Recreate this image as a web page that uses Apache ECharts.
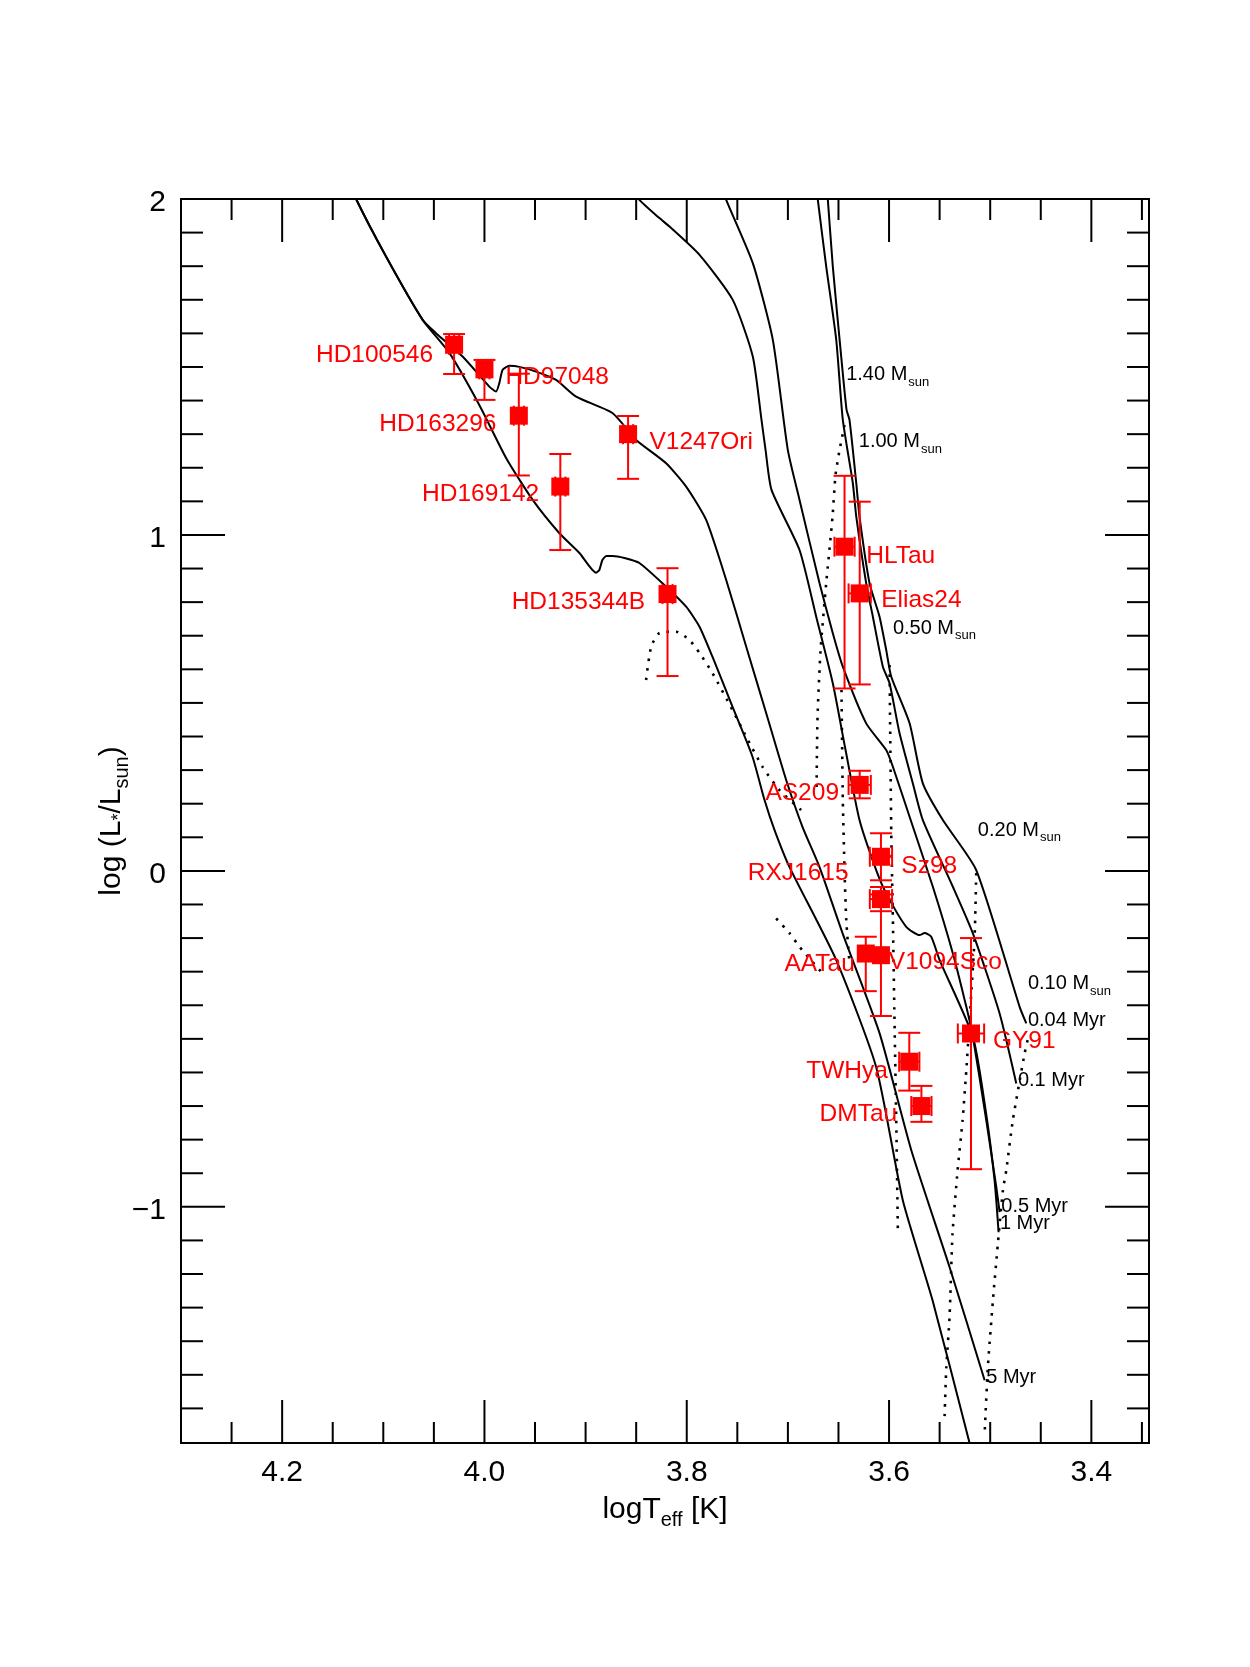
<!DOCTYPE html>
<html>
<head>
<meta charset="utf-8">
<title>HR diagram</title>
<script src="https://cdn.jsdelivr.net/npm/echarts@6/dist/echarts.min.js"></script>
<style>
  html, body { margin: 0; padding: 0; background: #fff; }
  #main { width: 1250px; height: 1667px; }
</style>
</head>
<body>
<div id="main"></div>
<script>
// axis limits (logTeff runs backwards)
var tMin = 3.343, tMax = 4.3
var lMin = -1.703, lMax = 2

// ticks
var xMajorTicks = [4.2, 4.0, 3.8, 3.6, 3.4]
var xTickLabels = ['4.2', '4.0', '3.8', '3.6', '3.4']
var xMinorTicks = [4.25, 4.15, 4.1, 4.05, 3.95, 3.9, 3.85, 3.75, 3.7, 3.65, 3.55, 3.5, 3.45, 3.35]
var yMajorTicks = [-1, 0, 1, 2]
var yTickLabels = ['\u22121', '0', '1', '2']
var yMinorTicks = [-1.6, -1.5, -1.4, -1.3, -1.2, -1.1, -0.9, -0.8, -0.7, -0.6, -0.5, -0.4, -0.3, -0.2, -0.1,
  0.1, 0.2, 0.3, 0.4, 0.5, 0.6, 0.7, 0.8, 0.9, 1.1, 1.2, 1.3, 1.4, 1.5, 1.6, 1.7, 1.8, 1.9]

// stars
var starNames = ['HD100546', 'HD97048', 'HD163296', 'HD169142', 'V1247Ori', 'HD135344B', 'HLTau', 'Elias24',
  'AS209', 'Sz98', 'RXJ1615', 'AATau', 'V1094Sco', 'GY91', 'TWHya', 'DMTau']
var starTeff = [4.030, 4.000, 3.966, 3.925, 3.858, 3.819, 3.644, 3.629, 3.629, 3.608, 3.608, 3.623, 3.608, 3.519, 3.580, 3.568]
var starLum = [1.566, 1.493, 1.355, 1.144, 1.300, 0.824, 0.965, 0.826, 0.256, 0.042, -0.084, -0.246, -0.251, -0.484, -0.568, -0.700]
var lumLo = [1.479, 1.402, 1.177, 0.955, 1.167, 0.580, 0.543, 0.555, 0.216, -0.028, -0.120, -0.358, -0.432, -0.888, -0.654, -0.747]
var lumHi = [1.598, 1.521, 1.480, 1.241, 1.354, 0.901, 1.176, 1.099, 0.298, 0.112, -0.048, -0.196, -0.070, -0.200, -0.482, -0.640]
var teffErr = [0.005, 0.005, 0.005, 0.005, 0.005, 0.005, 0.010, 0.011, 0.011, 0.011, 0.011, 0, 0, 0.013, 0.010, 0.010]
// where each name is written (left end of text)
var nameAt = [[4.1666, 1.536], [3.9793, 1.4696], [4.104, 1.3306], [4.0617, 1.1221], [3.8369, 1.2755], [3.9731, 0.7984],
  [3.6226, 0.9375], [3.6077, 0.8043], [3.7222, 0.2308], [3.5879, 0.0152], [3.7397, -0.0074], [3.7034, -0.2784],
  [3.6002, -0.2707], [3.4973, -0.5068], [3.6819, -0.5953], [3.6687, -0.7242]]

// isochrones (solid)
var isoOld = [[4.1336, 2.0572], [4.1270, 2.0006], [4.0973, 1.8288], [4.0611, 1.6403], [4.0347, 1.5420], [4.0051, 1.3871],
  [3.9786, 1.2293], [3.9523, 1.1042], [3.9259, 1.0051], [3.9061, 0.9464], [3.8896, 0.8877], [3.8864, 0.8958],
  [3.8834, 0.9256], [3.8794, 0.9375], [3.8735, 0.9375], [3.8616, 0.9315], [3.8468, 0.9166], [3.8204, 0.8460],
  [3.8006, 0.7865], [3.7874, 0.7269], [3.7746, 0.6376], [3.7548, 0.4887], [3.7350, 0.3398], [3.7231, 0.2108],
  [3.7132, 0.1215], [3.6984, 0.0113], [3.6522, -0.2656], [3.6127, -0.5843], [3.5864, -0.9803], [3.5570, -1.2781],
  [3.5204, -1.7031], [3.5154, -1.7546]]
var iso5Myr = [[4.1336, 2.0572], [4.1270, 2.0006], [4.0973, 1.8288], [4.0611, 1.6403], [4.0479, 1.6007], [4.0216, 1.5310],
  [3.9952, 1.4416], [3.9885, 1.4267], [3.9853, 1.4518], [3.9820, 1.4914], [3.9754, 1.5033], [3.9655, 1.5003],
  [3.9490, 1.4863], [3.9292, 1.4616], [3.9094, 1.4118], [3.8732, 1.3624], [3.8500, 1.2829], [3.8204, 1.2135],
  [3.8006, 1.1438], [3.7808, 1.0447], [3.7610, 0.8660], [3.7412, 0.6674], [3.7215, 0.4699], [3.7017, 0.2704],
  [3.6856, 0.1313], [3.6687, 0.0113], [3.6460, -0.1852], [3.6094, -0.4830], [3.5780, -0.8314], [3.5402, -1.1790],
  [3.5055, -1.5164]]
var iso1Myr = [[3.8567, 2.0423], [3.8468, 1.9976], [3.8270, 1.9431], [3.8171, 1.9181], [3.7874, 1.8338], [3.7545, 1.6998],
  [3.7347, 1.5310], [3.7261, 1.3425], [3.7221, 1.2531], [3.7162, 1.1340], [3.6885, 0.9553], [3.6720, 0.7567],
  [3.6556, 0.5584], [3.6430, 0.3597], [3.6292, 0.1513], [3.6127, 0.0024], [3.6028, -0.0670], [3.5830, -0.1665],
  [3.5698, -0.1912], [3.5649, -0.1852], [3.5583, -0.1962], [3.5500, -0.2656], [3.5171, -0.4940], [3.5045, -0.7123],
  [3.4957, -0.9208], [3.4917, -1.0756]]
var iso05Myr = [[3.7657, 2.0423], [3.7610, 1.9976], [3.7347, 1.8091], [3.7149, 1.5807], [3.7001, 1.2531], [3.6885, 1.1042],
  [3.6687, 0.8562], [3.6556, 0.7073], [3.6457, 0.6078], [3.6226, 0.4392], [3.6028, 0.3597], [3.5962, 0.3100],
  [3.5797, 0.1611], [3.5567, -0.0473], [3.5369, -0.2457], [3.5236, -0.4047], [3.5171, -0.4940], [3.5039, -0.7421],
  [3.4940, -0.9407], [3.4907, -1.0161]]
var iso01Myr = [[3.6717, 2.0423], [3.6704, 1.9976], [3.6621, 1.7990], [3.6522, 1.5807], [3.6457, 1.3425], [3.6358, 1.1539],
  [3.6324, 1.0545], [3.6226, 0.8562], [3.6160, 0.7567], [3.6061, 0.6078], [3.5995, 0.5584], [3.5896, 0.4095],
  [3.5765, 0.2606], [3.5666, 0.1513], [3.5369, -0.0473], [3.5171, -0.1861], [3.4907, -0.4244], [3.4742, -0.6328]]
var iso004Myr = [[3.6618, 2.0423], [3.6605, 1.9976], [3.6556, 1.7990], [3.6473, 1.5310], [3.6420, 1.3723], [3.6391, 1.3425],
  [3.6324, 1.1539], [3.6292, 1.0545], [3.6193, 0.8562], [3.6094, 0.7567], [3.6028, 0.6575], [3.5978, 0.5780],
  [3.5797, 0.4392], [3.5666, 0.2606], [3.5468, 0.1513], [3.5138, 0.0024], [3.4709, -0.4047], [3.4643, -0.4541]]

// mass tracks (dotted)
var trkHigh = [[3.8402, 0.5682], [3.8352, 0.6674], [3.8270, 0.7081], [3.8105, 0.7120], [3.7973, 0.6873], [3.7874, 0.6486],
  [3.7746, 0.5890], [3.7548, 0.4789], [3.7412, 0.3993], [3.7251, 0.3100], [3.7083, 0.2406], [3.6869, 0.1811]]
var trkLow = [[3.7116, -0.1415], [3.6984, -0.1852], [3.6885, -0.2260], [3.6668, -0.3014]]
var trk100 = [[3.6440, 1.3276], [3.6489, 1.2531], [3.6529, 1.1787], [3.6559, 1.0536], [3.6621, 0.8571], [3.6677, 0.6575],
  [3.6707, 0.4580], [3.6717, 0.2406]]
var trkMid = [[3.6470, 0.5384], [3.6457, 0.2108], [3.6440, 0.0024], [3.6423, -0.1465], [3.6391, -0.2746]]
var trk050 = [[3.5995, 0.6129], [3.5978, 0.1126], [3.5962, -0.1465], [3.5946, -0.4443], [3.5929, -0.7421], [3.5913, -1.0697]]
var trk020 = [[3.5138, -0.0066], [3.5154, -0.1971], [3.5204, -0.4443], [3.5236, -0.5932], [3.5273, -0.7421], [3.5322, -0.8910],
  [3.5372, -1.0786], [3.5402, -1.3288], [3.5434, -1.4777], [3.5451, -1.6266]]
var trk010 = [[3.4630, -0.5039], [3.4660, -0.5435], [3.4776, -0.7421], [3.4841, -0.8910], [3.4874, -0.9506], [3.4924, -1.1093],
  [3.4973, -1.2781], [3.5023, -1.4768], [3.5055, -1.6751]]

// black annotations
var massTags = ['1.40', '1.00', '0.50', '0.20', '0.10']
var massTagAt = [[3.6424, 1.4762], [3.6299, 1.2778], [3.5962, 0.7222], [3.5122, 0.1215], [3.4627, -0.335]]
var ageTags = ['0.04 Myr', '0.1 Myr', '0.5 Myr', '1 Myr', '5 Myr']
var ageTagAt = [[3.4627, -0.4443], [3.4726, -0.623], [3.489, -1.0003], [3.4904, -1.0489], [3.5039, -1.5065]]

var FONT = '"Liberation Sans", Arial, Helvetica, sans-serif'
var RED = '#ff0000'

function solid(name, data) {
  return { name: name, type: 'line', data: data, showSymbol: false, smooth: 0.2, z: 2,
    lineStyle: { color: '#000', width: 2 } }
}
function dotted(name, data) {
  return { name: name, type: 'line', data: data, showSymbol: false, smooth: 0.2, z: 2,
    lineStyle: { color: '#000', width: 2.6, type: [2.5, 7] } }
}

function xTicks(major) {
  return function(params, api) {
    var cs = params.coordSys
    var px = api.coord([api.value(0), 0])[0]
    var len = major ? 43 : 21
    var bottom = cs.y + cs.height
    var st = { stroke: '#000', lineWidth: 2 }
    var kids = [
      { type: 'line', shape: { x1: px, y1: bottom, x2: px, y2: bottom - len }, style: st },
      { type: 'line', shape: { x1: px, y1: cs.y, x2: px, y2: cs.y + len }, style: st }
    ]
    if (major) {
      kids.push({ type: 'text', x: px, y: bottom + 15,
        style: { text: xTickLabels[params.dataIndex], fill: '#000', fontSize: 30, fontFamily: FONT,
          align: 'center', verticalAlign: 'top' } })
    }
    return { type: 'group', children: kids }
  }
}
function yTicks(major) {
  return function(params, api) {
    var cs = params.coordSys
    var py = api.coord([tMax, api.value(1)])[1]
    var len = major ? 44 : 22
    var right = cs.x + cs.width
    var st = { stroke: '#000', lineWidth: 2 }
    var kids = [
      { type: 'line', shape: { x1: cs.x, y1: py, x2: cs.x + len, y2: py }, style: st },
      { type: 'line', shape: { x1: right, y1: py, x2: right - len, y2: py }, style: st }
    ]
    if (major) {
      kids.push({ type: 'text', x: cs.x - 15, y: py + 4,
        style: { text: yTickLabels[params.dataIndex], fill: '#000', fontSize: 30, fontFamily: FONT,
          align: 'right', verticalAlign: 'middle' } })
    }
    return { type: 'group', children: kids }
  }
}

function errorBars(params, api) {
  var t = api.value(0), l = api.value(1), lo = api.value(2), hi = api.value(3), te = api.value(4)
  var pHi = api.coord([t, hi]), pLo = api.coord([t, lo])
  var st = { stroke: RED, lineWidth: 2 }
  var cap = 11
  var kids = [
    { type: 'line', shape: { x1: pHi[0], y1: pHi[1], x2: pLo[0], y2: pLo[1] }, style: st },
    { type: 'line', shape: { x1: pHi[0] - cap, y1: pHi[1], x2: pHi[0] + cap, y2: pHi[1] }, style: st },
    { type: 'line', shape: { x1: pLo[0] - cap, y1: pLo[1], x2: pLo[0] + cap, y2: pLo[1] }, style: st }
  ]
  if (te > 0) {
    var pA = api.coord([t + te, l]), pB = api.coord([t - te, l])
    kids.push({ type: 'line', shape: { x1: pA[0], y1: pA[1], x2: pB[0], y2: pB[1] }, style: st })
    kids.push({ type: 'line', shape: { x1: pA[0], y1: pA[1] - 10, x2: pA[0], y2: pA[1] + 10 }, style: st })
    kids.push({ type: 'line', shape: { x1: pB[0], y1: pB[1] - 10, x2: pB[0], y2: pB[1] + 10 }, style: st })
  }
  return { type: 'group', children: kids }
}

function starLabel(params, api) {
  var p = api.coord([api.value(0), api.value(1)])
  return { type: 'text', x: p[0], y: p[1],
    style: { text: starNames[params.dataIndex], fill: RED, fontSize: 24.5, fontFamily: FONT,
      align: 'left', verticalAlign: 'middle' } }
}
function massLabel(params, api) {
  var p = api.coord([api.value(0), api.value(1)])
  return { type: 'text', x: p[0], y: p[1] - 10,
    style: { text: '{m|' + massTags[params.dataIndex] + ' M}{s|sun}', fill: '#000', fontFamily: FONT,
      align: 'left', verticalAlign: 'top',
      rich: {
        m: { fontSize: 20, fontFamily: FONT, fill: '#000', verticalAlign: 'top', lineHeight: 20 },
        s: { fontSize: 13, fontFamily: FONT, fill: '#000', verticalAlign: 'top', lineHeight: 13, padding: [11, 0, 0, 1] }
      } } }
}
function ageLabel(params, api) {
  var p = api.coord([api.value(0), api.value(1)])
  return { type: 'text', x: p[0], y: p[1],
    style: { text: ageTags[params.dataIndex], fill: '#000', fontSize: 20, fontFamily: FONT,
      align: 'left', verticalAlign: 'middle' } }
}

var chart = echarts.init(document.getElementById('main'))
var option = {
  animation: false,
  backgroundColor: '#fff',
  grid: { left: 181, top: 199, width: 968, height: 1244, show: true, borderColor: '#000', borderWidth: 2 },
  xAxis: {
    type: 'value', min: tMin, max: tMax, inverse: true,
    axisLine: { show: false }, axisTick: { show: false }, axisLabel: { show: false }, splitLine: { show: false },
    name: '{a|logT}{s|eff}{a| [K]}', nameLocation: 'middle', nameGap: 52,
    nameTextStyle: {
      rich: {
        a: { fontSize: 30, fontFamily: FONT, color: '#000', verticalAlign: 'top', lineHeight: 32 },
        s: { fontSize: 20, fontFamily: FONT, color: '#000', verticalAlign: 'top', lineHeight: 20, padding: [15, 0, 0, 0] }
      }
    }
  },
  yAxis: {
    type: 'value', min: lMin, max: lMax,
    axisLine: { show: false }, axisTick: { show: false }, axisLabel: { show: false }, splitLine: { show: false },
    name: '{a|log (L}{t|*}{a|/L}{s|sun}{a|)}', nameLocation: 'middle', nameGap: 52,
    nameTextStyle: {
      rich: {
        a: { fontSize: 30, fontFamily: FONT, color: '#000', verticalAlign: 'top', lineHeight: 32 },
        t: { fontSize: 18, fontFamily: FONT, color: '#000', verticalAlign: 'top', lineHeight: 18, padding: [13, 0, 0, 0] },
        s: { fontSize: 20, fontFamily: FONT, color: '#000', verticalAlign: 'top', lineHeight: 20, padding: [15, 0, 0, 0] }
      }
    }
  },
  series: [
    solid('old', isoOld),
    solid('5 Myr', iso5Myr),
    solid('1 Myr', iso1Myr),
    solid('0.5 Myr', iso05Myr),
    solid('0.1 Myr', iso01Myr),
    solid('0.04 Myr', iso004Myr),
    dotted('track high', trkHigh),
    dotted('track low', trkLow),
    dotted('1.00', trk100),
    dotted('track mid', trkMid),
    dotted('0.50', trk050),
    dotted('0.20', trk020),
    dotted('0.10', trk010),
    { type: 'custom', name: 'errors', z: 3, renderItem: errorBars,
      data: starTeff.map(function(t, i) { return [t, starLum[i], lumLo[i], lumHi[i], teffErr[i]] }) },
    { type: 'scatter', name: 'stars', z: 4, symbol: 'rect', symbolSize: 18,
      itemStyle: { color: RED, opacity: 1 }, data: starTeff.map(function(t, i) { return [t, starLum[i]] }) },
    { type: 'custom', name: 'names', z: 5, renderItem: starLabel, data: nameAt },
    { type: 'custom', name: 'masses', z: 5, renderItem: massLabel, data: massTagAt },
    { type: 'custom', name: 'ages', z: 5, renderItem: ageLabel, data: ageTagAt },
    { type: 'custom', name: 'xmaj', z: 6, renderItem: xTicks(true), data: xMajorTicks.map(function(v) { return [v, 0] }) },
    { type: 'custom', name: 'xmin', z: 6, renderItem: xTicks(false), data: xMinorTicks.map(function(v) { return [v, 0] }) },
    { type: 'custom', name: 'ymaj', z: 6, renderItem: yTicks(true), data: yMajorTicks.map(function(v) { return [4, v] }) },
    { type: 'custom', name: 'ymin', z: 6, renderItem: yTicks(false), data: yMinorTicks.map(function(v) { return [4, v] }) }
  ]
}
chart.setOption(option)
</script>
</body>
</html>
